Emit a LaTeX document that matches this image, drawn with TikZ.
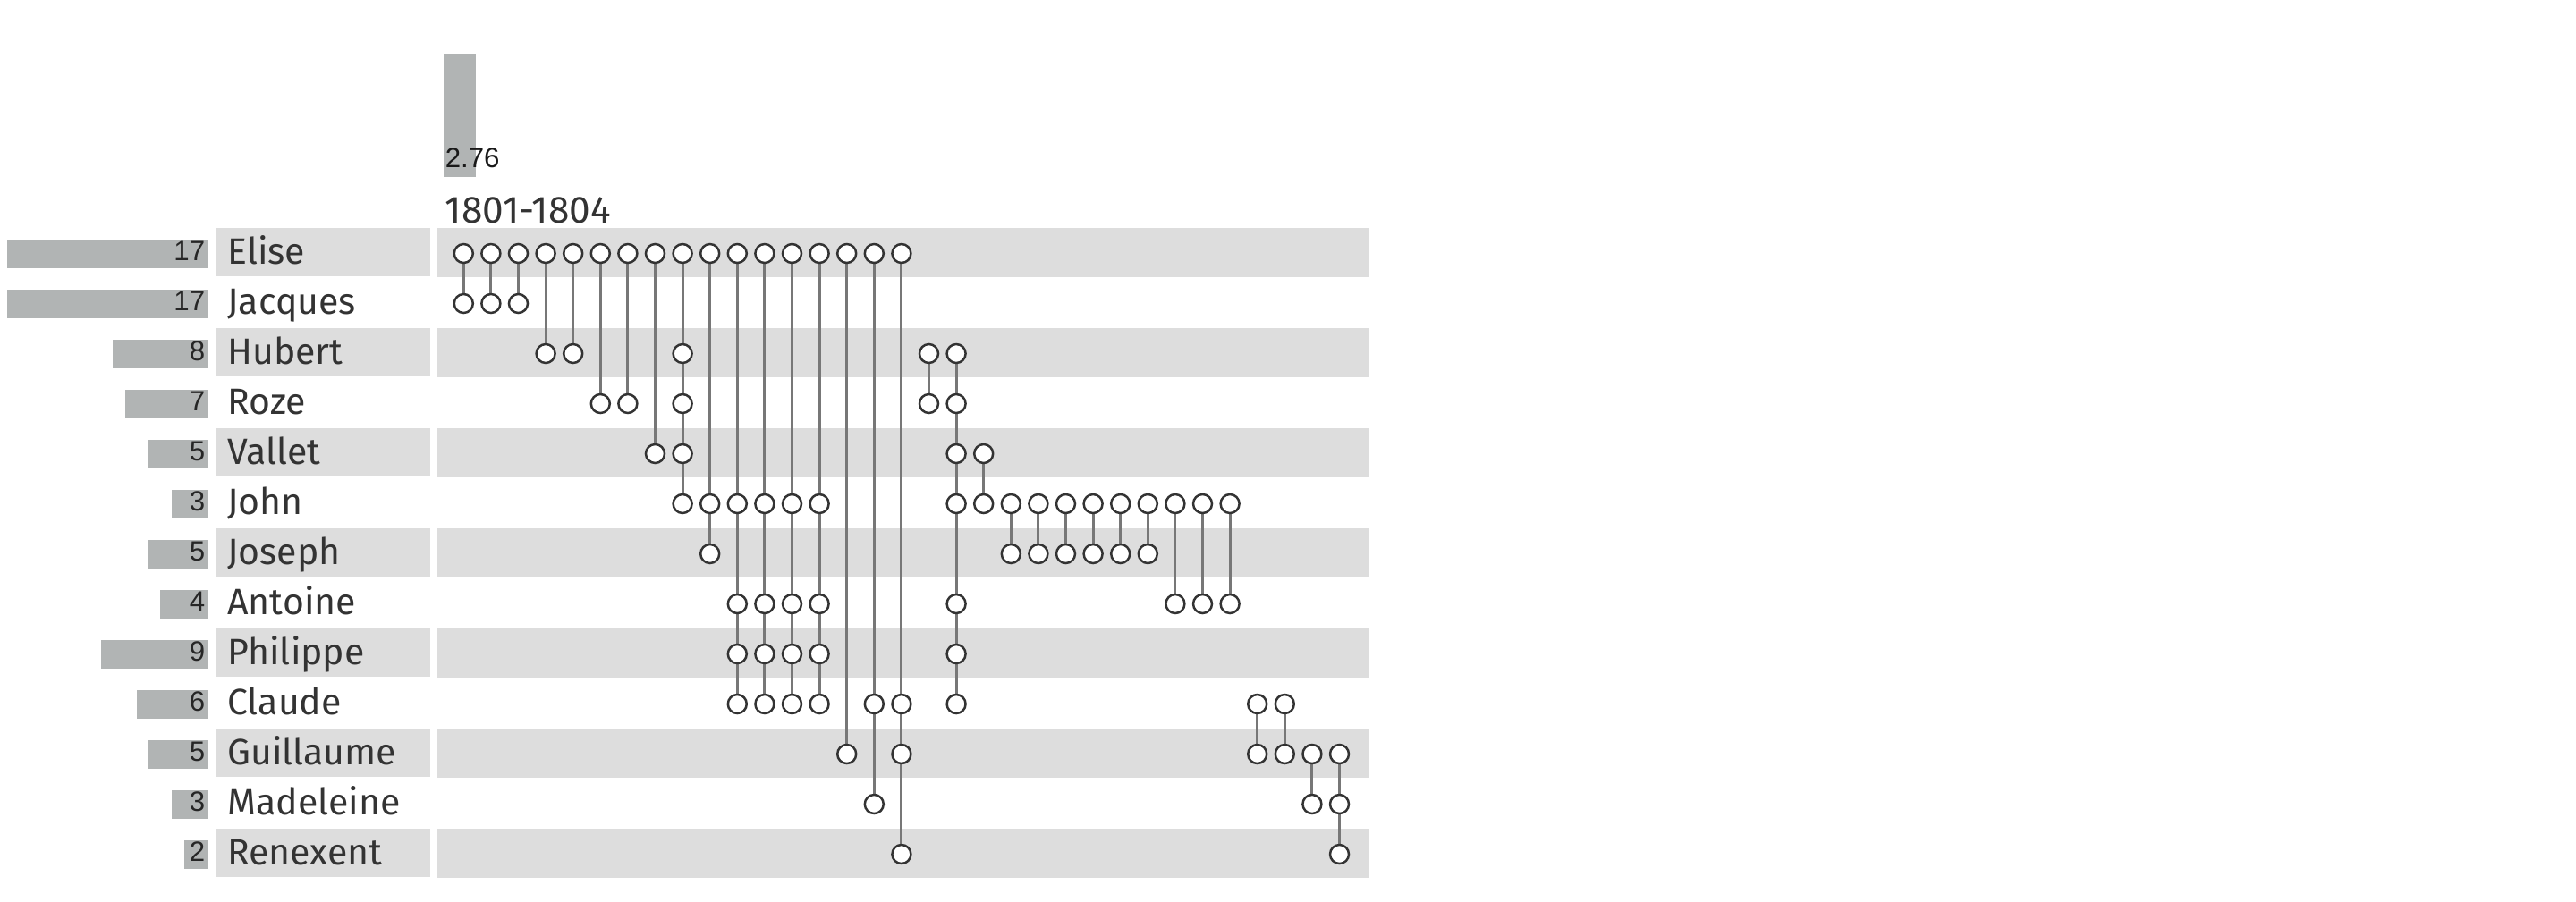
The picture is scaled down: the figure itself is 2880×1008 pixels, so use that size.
\documentclass[tikz,border=0pt]{standalone}
\usepackage{fontspec}
\setmainfont{Fira Sans}
\newfontfamily\numfont{Liberation Sans}
\pgfdeclarelayer{bands}
\pgfdeclarelayer{links}
\pgfsetlayers{bands,links,main}
\definecolor{bandgray}{HTML}{DDDDDD}
\definecolor{bargray}{HTML}{B1B4B4}
\definecolor{ringcol}{HTML}{333333}
\definecolor{linkcol}{HTML}{777777}
\definecolor{txtcol}{HTML}{333333}
\begin{document}
\begin{tikzpicture}[x=0.25pt,y=-0.25pt,
  dot/.style={circle,draw=ringcol,fill=white,line width=0.62pt,minimum size=5.25pt,inner sep=0pt},
  link/.style={draw=linkcol,line width=0.75pt},
  band/.style={fill=bandgray,draw=none},
  cbar/.style={fill=bargray,draw=none},
  namelbl/.style={anchor=base west,text=txtcol,font=\fontsize{10.25pt}{12pt}\selectfont,inner sep=0pt},
  cntlbl/.style={anchor=base east,text=black!85,font=\numfont\fontsize{7.8pt}{9pt}\selectfont,inner sep=0pt}]
\useasboundingbox (0,0) rectangle (2880,1008);
\begin{pgfonlayer}{bands}
\fill[white] (0,0) rectangle (2880,1008);
\fill[cbar] (495.5,60) rectangle (531.5,198);
\end{pgfonlayer}
\node[anchor=base west,inner sep=0pt,text=black!90,font=\numfont\fontsize{7.8pt}{9pt}\selectfont] (val) at (497,187) {2.76};
\node[anchor=base west,inner sep=0pt,text=txtcol,font=\fontsize{10.6pt}{12pt}\selectfont] (period) at (497,249) {1801-1804};
% rows
\foreach \nm/\ct [count=\i from 0] in {Elise/17,Jacques/17,Hubert/8,Roze/7,Vallet/5,John/3,Joseph/5,Antoine/4,Philippe/9,Claude/6,Guillaume/5,Madeleine/3,Renexent/2}{
  \pgfmathsetmacro\yy{283+56*\i}
  \begin{pgfonlayer}{bands}
  \ifodd\i\else
    \fill[band] (241,\yy-28) rectangle (481,\yy+26);
    \fill[band] (489,\yy-28) rectangle (1530,\yy+27);
  \fi
  \fill[cbar] (232-13.2*\ct,\yy-15.5) rectangle (232,\yy+16.5);
  \end{pgfonlayer}
  \node[cntlbl] (cnt\i) at (230,\yy+8) {\ct};
  \node[namelbl] (name\i) at (253.6,\yy+12) {\nm};
}
% columns
\foreach \c/\a/\b/\rs in {0/0/1/{0,1},1/0/1/{0,1},2/0/1/{0,1},3/0/2/{0,2},4/0/2/{0,2},
  5/0/3/{0,3},6/0/3/{0,3},7/0/4/{0,4},8/0/5/{0,2,3,4,5},9/0/6/{0,5,6},
  10/0/9/{0,5,7,8,9},11/0/9/{0,5,7,8,9},12/0/9/{0,5,7,8,9},13/0/9/{0,5,7,8,9},
  14/0/10/{0,10},15/0/11/{0,9,11},16/0/12/{0,9,10,12},17/2/3/{2,3},
  18/2/9/{2,3,4,5,7,8,9},19/4/5/{4,5},20/5/6/{5,6},21/5/6/{5,6},22/5/6/{5,6},
  23/5/6/{5,6},24/5/6/{5,6},25/5/6/{5,6},26/5/7/{5,7},27/5/7/{5,7},28/5/7/{5,7},
  29/9/10/{9,10},30/9/10/{9,10},31/10/11/{10,11},32/10/12/{10,11,12}}{
  \pgfmathsetmacro\xx{518.3+30.6*\c}
  \foreach \r in \rs {\node[dot] (c\c-\r) at (\xx,283.5+56*\r) {};}
  \begin{pgfonlayer}{links}
  \draw[link] (c\c-\a.center) -- (c\c-\b.center);
  \end{pgfonlayer}
}
\end{tikzpicture}
\end{document}
